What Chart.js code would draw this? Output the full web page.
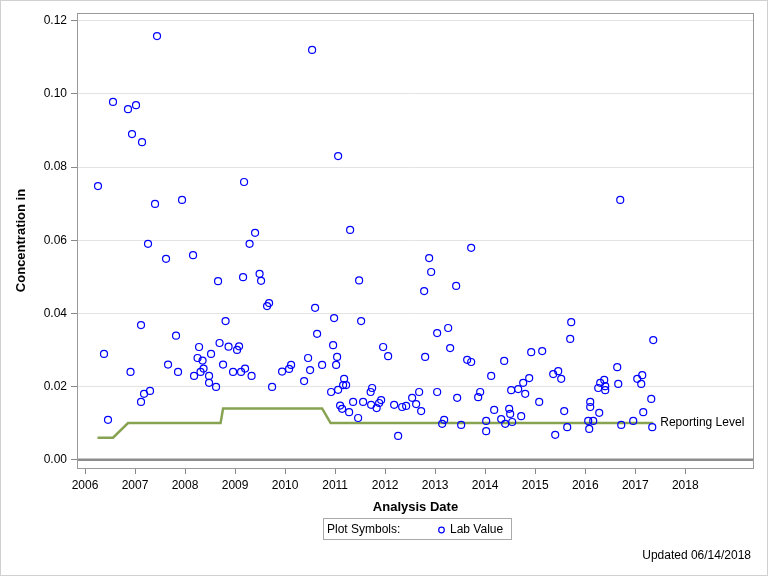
<!DOCTYPE html>
<html>
<head>
    <title>Lab Value Concentration over Time</title>
    <script src="https://cdn.jsdelivr.net/npm/chart.js"></script>
    <style>
        body { margin: 0; background: #fff; }
    </style>
</head>
<body>
    <canvas id="myChart" width="768" height="576"></canvas>

    <script>
        // Lab samples: analysis date (decimal year) and concentration
        var labDates = [
            2006.26, 2006.38, 2006.46, 2006.56, 2006.86, 2006.91, 2006.94, 2007.02, 2007.12, 2007.12,
            2007.14, 2007.18, 2007.26, 2007.30, 2007.40, 2007.44, 2007.62, 2007.66, 2007.82, 2007.86,
            2007.94, 2008.16, 2008.18, 2008.25, 2008.28, 2008.31, 2008.35, 2008.37, 2008.48, 2008.48,
            2008.52, 2008.62, 2008.66, 2008.69, 2008.76, 2008.81, 2008.87, 2008.96, 2009.04, 2009.08,
            2009.12, 2009.16, 2009.18, 2009.20, 2009.29, 2009.33, 2009.40,
            2009.49, 2009.52, 2009.64, 2009.68, 2009.74, 2009.94, 2010.08, 2010.12, 2010.38, 2010.46,
            2010.50, 2010.54, 2010.60, 2010.64, 2010.74, 2010.92, 2010.96, 2010.98, 2011.02, 2011.04,
            2011.06, 2011.06, 2011.10, 2011.14, 2011.16, 2011.18, 2011.22, 2011.28, 2011.30, 2011.36,
            2011.46, 2011.48, 2011.52, 2011.56, 2011.71, 2011.74, 2011.72, 2011.83, 2011.88, 2011.92,
            2011.96, 2012.06, 2012.18, 2012.26, 2012.34, 2012.42, 2012.54, 2012.62, 2012.68, 2012.72,
            2012.78, 2012.80,
            2012.88, 2012.92, 2013.04, 2013.04, 2013.14, 2013.18, 2013.26, 2013.30, 2013.42, 2013.44,
            2013.52, 2013.64, 2013.72, 2013.72, 2013.86, 2013.90, 2014.02, 2014.02, 2014.12, 2014.18,
            2014.32, 2014.38, 2014.40, 2014.48, 2014.50, 2014.52, 2014.54, 2014.66, 2014.72, 2014.76,
            2014.80, 2014.88, 2014.92, 2015.08, 2015.14, 2015.36, 2015.40, 2015.46, 2015.52, 2015.58,
            2015.64, 2015.70, 2015.72, 2016.06, 2016.08, 2016.10, 2016.10, 2016.16, 2016.26, 2016.28,
            2016.30, 2016.38, 2016.40, 2016.40, 2016.64, 2016.66, 2016.70, 2016.72, 2016.96, 2017.04,
            2017.12, 2017.14, 2017.16, 2017.32, 2017.34, 2017.36
        ];
        var labValues = [
            0.0748, 0.0289, 0.0109, 0.0978, 0.0958, 0.0240, 0.0890, 0.0969, 0.0368, 0.0158,
            0.0868, 0.0180, 0.0590, 0.0188, 0.0699, 0.1158, 0.0549, 0.0260, 0.0339, 0.0240,
            0.0710, 0.0559, 0.0229, 0.0278, 0.0308, 0.0240, 0.0271, 0.0249, 0.0229, 0.0210,
            0.0289, 0.0199, 0.0488, 0.0319, 0.0260, 0.0379, 0.0309, 0.0240, 0.0300, 0.0310,
            0.0240, 0.0499, 0.0759, 0.0249, 0.0590, 0.0229, 0.0620,
            0.0508, 0.0489, 0.0420, 0.0428, 0.0199, 0.0241, 0.0248, 0.0259, 0.0215, 0.0278,
            0.0245, 0.1120, 0.0415, 0.0344, 0.0259, 0.0185, 0.0313, 0.0387, 0.0259, 0.0281,
            0.0830, 0.0191, 0.0148, 0.0139, 0.0204, 0.0221, 0.0204, 0.0130, 0.0628, 0.0158,
            0.0114, 0.0490, 0.0379, 0.0158, 0.0185, 0.0196, 0.0150, 0.0141, 0.0155, 0.0163,
            0.0308, 0.0283, 0.0150, 0.0065, 0.0144, 0.0147, 0.0169, 0.0152, 0.0185, 0.0133,
            0.0461, 0.0281,
            0.0551, 0.0513, 0.0346, 0.0185, 0.0098, 0.0109, 0.0360, 0.0305, 0.0475, 0.0169,
            0.0095, 0.0273, 0.0579, 0.0267, 0.0171, 0.0185, 0.0106, 0.0078, 0.0229, 0.0136,
            0.0111, 0.0270, 0.0098, 0.0139, 0.0125, 0.0190, 0.0103, 0.0193, 0.0119, 0.0210,
            0.0180, 0.0223, 0.0294, 0.0158, 0.0297, 0.0234, 0.0068, 0.0242, 0.0221, 0.0133,
            0.0089, 0.0330, 0.0376, 0.0106, 0.0084, 0.0158, 0.0144, 0.0106, 0.0196, 0.0128,
            0.0210, 0.0218, 0.0201, 0.0190, 0.0253, 0.0207, 0.0710, 0.0095, 0.0106, 0.0221,
            0.0207, 0.0231, 0.0130, 0.0166, 0.0089, 0.0327
        ];

        // Reporting level (step line)
        var rlDates = [2006.25, 2006.56, 2006.86, 2008.71, 2008.76, 2010.74, 2010.91, 2017.36];
        var rlValues = [0.006, 0.006, 0.010, 0.010, 0.014, 0.014, 0.010, 0.010];

        // Axis ticks
        var xTicks = [2006, 2007, 2008, 2009, 2010, 2011, 2012, 2013, 2014, 2015, 2016, 2017, 2018];
        var yTicks = [0, 0.02, 0.04, 0.06, 0.08, 0.10, 0.12];

        var FONT = "'Liberation Sans', Arial, sans-serif";
        Chart.defaults.font.family = FONT;
        Chart.defaults.color = '#000';

        // Extra drawing: zero line, plot frame, line label, legend box, footer
        var extras = {
            id: 'extras',
            beforeDatasetsDraw: function (chart) {
                var c = chart.ctx, a = chart.chartArea;
                var y0 = chart.scales.y.getPixelForValue(0);
                c.save();
                c.strokeStyle = '#8c8c8c';
                c.lineWidth = 2.5;
                c.beginPath();
                c.moveTo(a.left, y0);
                c.lineTo(a.right, y0);
                c.stroke();
                c.restore();
            },
            afterDraw: function (chart) {
                var c = chart.ctx, a = chart.chartArea;
                var xs = chart.scales.x, ys = chart.scales.y;
                c.save();
                // plot frame
                c.strokeStyle = '#999';
                c.lineWidth = 1;
                c.strokeRect(a.left + 0.5, a.top + 0.5, a.right - a.left - 1, a.bottom - a.top);

                // label at end of reporting level
                var n = rlDates.length - 1;
                c.fillStyle = '#000';
                c.font = '12px ' + FONT;
                c.textAlign = 'left';
                c.textBaseline = 'middle';
                c.fillText('Reporting Level', xs.getPixelForValue(rlDates[n]) + 7, ys.getPixelForValue(rlValues[n]));

                // legend box
                c.strokeStyle = '#aaa';
                c.strokeRect(323.5, 518.5, 188, 21);
                c.fillText('Plot Symbols:', 327, 530);
                c.fillText('Lab Value', 450, 530);
                c.strokeStyle = '#0000ff';
                c.lineWidth = 1.2;
                c.beginPath();
                c.arc(441.5, 530, 2.8, 0, Math.PI * 2);
                c.stroke();

                // footer
                c.textAlign = 'right';
                c.fillText('Updated 06/14/2018', 751, 556);

                // outer frame
                c.strokeStyle = '#d0d0d0';
                c.lineWidth = 1;
                c.strokeRect(0.5, 0.5, 767, 575);
                c.restore();
            }
        };

        var ctx = document.getElementById('myChart').getContext('2d');
        var myChart = new Chart(ctx, {
            type: 'scatter',
            data: {
                datasets: [
                    {
                        label: 'Lab Value',
                        data: labDates.map(function (d, i) { return { x: d, y: labValues[i] }; }),
                        pointStyle: 'circle',
                        pointRadius: 3.5,
                        pointBorderWidth: 1.2,
                        pointBorderColor: '#0000ff',
                        pointBackgroundColor: 'rgba(0,0,0,0)',
                        showLine: false,
                        order: 1
                    },
                    {
                        label: 'Reporting Level',
                        type: 'line',
                        data: rlDates.map(function (d, i) { return { x: d, y: rlValues[i] }; }),
                        borderColor: '#87a352',
                        borderWidth: 2.5,
                        pointRadius: 0,
                        fill: false,
                        tension: 0,
                        order: 2
                    }
                ]
            },
            options: {
                responsive: false,
                animation: false,
                devicePixelRatio: 1,
                layout: { padding: { left: 0, top: 13, right: 14, bottom: 61 } },
                plugins: {
                    legend: { display: false },
                    tooltip: { enabled: false }
                },
                scales: {
                    x: {
                        type: 'linear',
                        min: 2005.84,
                        max: 2019.374,
                        afterBuildTicks: function (s) { s.ticks = xTicks.map(function (v) { return { value: v }; }); },
                        afterFit: function (s) { s.height = 47; },
                        ticks: {
                            padding: 4,
                            maxRotation: 0,
                            autoSkip: false,
                            font: { size: 12 },
                            callback: function (v) { return String(v); }
                        },
                        grid: { drawOnChartArea: false, tickLength: 6, color: '#888' },
                        border: { display: false },
                        title: {
                            display: true,
                            text: 'Analysis Date',
                            font: { size: 13, weight: 'bold' },
                            padding: 0
                        }
                    },
                    y: {
                        min: -0.00227,
                        max: 0.1221,
                        afterBuildTicks: function (s) { s.ticks = yTicks.map(function (v) { return { value: v }; }); },
                        afterFit: function (s) { s.width = 77; },
                        ticks: {
                            padding: 4,
                            font: { size: 12 },
                            callback: function (v) { return v.toFixed(2); }
                        },
                        grid: { color: '#e3e3e3', tickColor: '#888', tickLength: 6 },
                        border: { display: false },
                        title: {
                            display: true,
                            text: 'Concentration in',
                            font: { size: 13, weight: 'bold' },
                            padding: { top: 14, bottom: 0 }
                        }
                    }
                }
            },
            plugins: [extras]
        });
    </script>
</body>
</html>
